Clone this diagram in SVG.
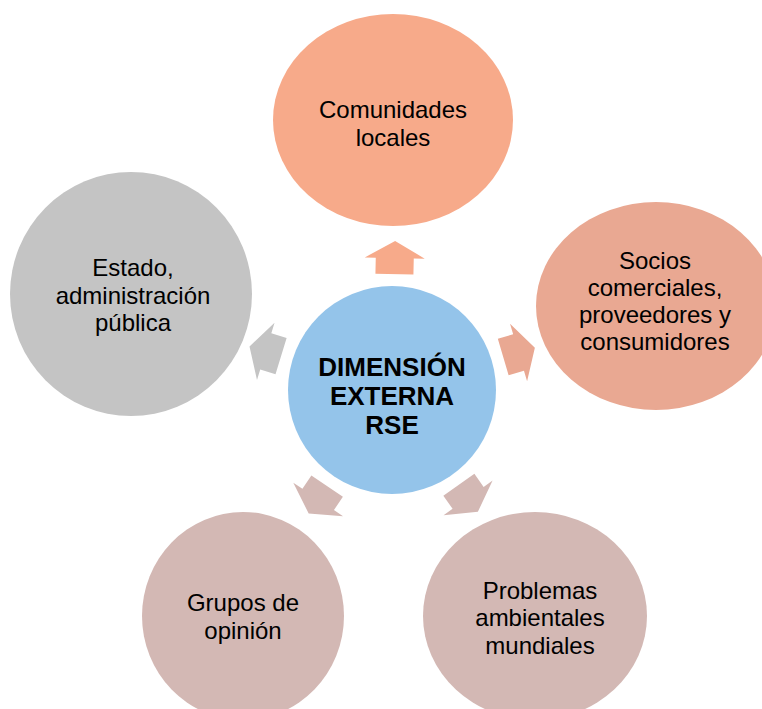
<svg xmlns="http://www.w3.org/2000/svg" width="762" height="709" viewBox="0 0 762 709">
<defs>
<style>
.t{font-family:"Liberation Sans",Arial,sans-serif;font-size:24px;fill:#000;text-anchor:middle}
.b{font-family:"Liberation Sans",Arial,sans-serif;font-size:26px;font-weight:bold;fill:#000;text-anchor:middle}
</style>
<path id="arr" d="M392,241 L422,258 L411,258 L411,274 L373,274 L373,258 L362,258 Z"/>
</defs>
<rect width="762" height="709" fill="#fff"/>
<g id="connectors">
<use href="#arr" fill="#F7AA8A" transform="rotate(1.2 392 390)"/>
<use href="#arr" fill="#E9A892" transform="rotate(73.5 392 390)"/>
<use href="#arr" fill="#C4C4C4" transform="rotate(-73 392 390)"/>
<use href="#arr" fill="#D3B8B4" transform="rotate(-146 392 390)"/>
<use href="#arr" fill="#D3B8B4" transform="rotate(144.8 392 390)"/>
</g>
<g id="node-comunidades">
<ellipse cx="393" cy="120" rx="120" ry="106" fill="#F7AA8A"/>
<text class="t" x="393" y="118">Comunidades</text>
<text class="t" x="393" y="145.5">locales</text>
</g>
<g id="node-estado">
<ellipse cx="131" cy="294" rx="121" ry="122" fill="#C4C4C4"/>
<text class="t" x="133" y="276">Estado,</text>
<text class="t" x="133" y="303.5">administración</text>
<text class="t" x="133" y="331">pública</text>
</g>
<g id="node-socios">
<ellipse cx="656" cy="306" rx="120" ry="104" fill="#E9A892"/>
<text class="t" x="655" y="269">Socios</text>
<text class="t" x="655" y="296">comerciales,</text>
<text class="t" x="655" y="323">proveedores y</text>
<text class="t" x="655" y="350">consumidores</text>
</g>
<g id="node-grupos">
<ellipse cx="243" cy="616" rx="101" ry="104" fill="#D3B8B4"/>
<text class="t" x="243" y="611">Grupos de</text>
<text class="t" x="243" y="639">opinión</text>
</g>
<g id="node-problemas">
<ellipse cx="535" cy="616" rx="112" ry="104" fill="#D3B8B4"/>
<text class="t" x="540" y="599">Problemas</text>
<text class="t" x="540" y="626">ambientales</text>
<text class="t" x="540" y="654">mundiales</text>
</g>
<g id="node-centro">
<circle cx="392" cy="390" r="104" fill="#94C4EA"/>
<text class="b" x="392" y="376">DIMENSIÓN</text>
<text class="b" x="392" y="405">EXTERNA</text>
<text class="b" x="392" y="434">RSE</text>
</g>
</svg>
